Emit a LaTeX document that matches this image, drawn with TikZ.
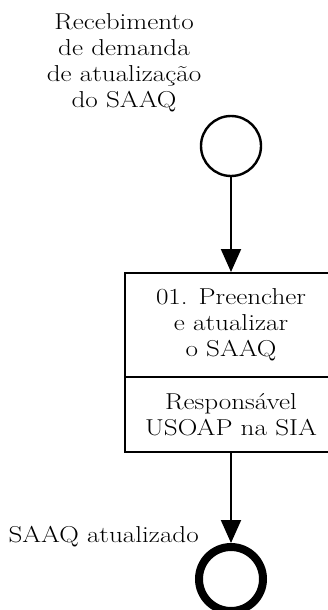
\documentclass[tikz,border=0pt]{standalone}
\usepackage{fontspec}
\setmainfont{Latin Modern Roman}[FakeStretch=1.18]
\usetikzlibrary{arrows.meta}
\begin{document}
\begin{tikzpicture}[x=1pt,y=-1pt,
  lbl/.style={font=\fontsize{23}{26}\selectfont, align=center, inner sep=0pt},
  startev/.style={circle, draw, line width=2.4pt, minimum size=60pt, inner sep=0pt},
  endev/.style={circle, draw, line width=8pt, minimum size=64pt, inner sep=0pt},
  taskbox/.style={rectangle, draw, line width=2pt, minimum width=212pt, inner sep=0pt, lbl},
  flow/.style={line width=2pt, -{Triangle[length=23pt,width=20pt]}}]
\useasboundingbox (0,0) rectangle (327,610);

% start event and its caption
\node[startev] (start) at (231,146) {};
\node[lbl] (startlbl) at (124,63) {Recebimento\\de demanda\\de atualização\\do SAAQ};

% task with its performer lane
\node[taskbox, minimum height=104pt] (task) at (231,325) {01. Preencher\\e atualizar\\o SAAQ};
\node[taskbox, minimum height=75pt] (role) at (231,414.5) {Responsável\\USOAP na SIA};

% end event and its caption
\node[endev] (end) at (231,579) {};
\node[lbl, anchor=base east] (endlbl) at (199,542) {SAAQ atualizado};

% sequence flows
\draw[flow] (start.south) -- (task.north);
\draw[flow] (role.south) -- (end.north);
\end{tikzpicture}
\end{document}
